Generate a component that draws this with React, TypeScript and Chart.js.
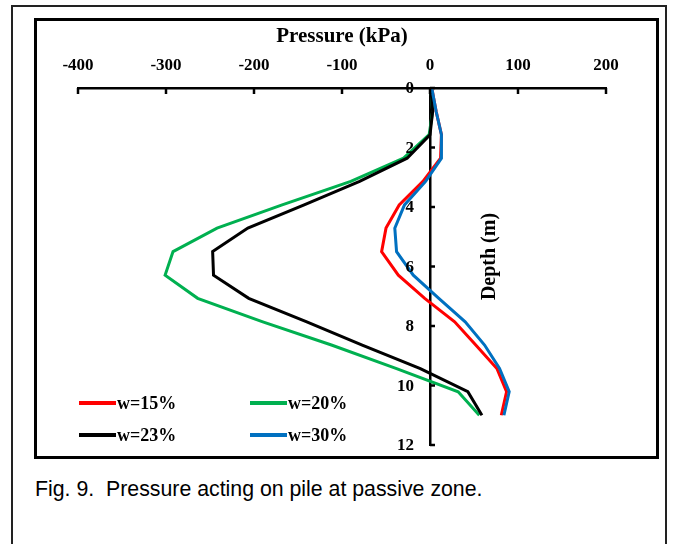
import React, { useEffect, useRef } from "react";
import { Chart, registerables } from "chart.js";
Chart.register(...registerables);

// Depth (m) at each node
const depths = [0, 0.79, 1.57, 2.36, 3.14, 3.93, 4.71, 5.5, 6.29, 7.07, 7.86, 8.64, 9.43, 10.21, 11];
// Pressure (kPa)
const w15 = [2, 7, 13, 12, -8, -35, -50, -55, -36, -6, 28, 52, 76, 87, 81];
const w20 = [1, 3, -1, -30, -90, -168, -242, -292, -301, -264, -190, -112, -38, 32, 56];
const w23 = [1, 3, 0, -26, -80, -143, -207, -247, -246, -206, -140, -77, -11, 43, 59];
const w30 = [2, 7, 13, 13, -5, -29, -40, -38, -19, 10, 40, 62, 79, 90, 84];

const seriesLabels = ["w=15%", "w=20%", "w=23%", "w=30%"];
const seriesColors = ["#FF0000", "#00B050", "#000000", "#0070C0"];
const seriesValues = [w15, w20, w23, w30];
const seriesOrder = [3, 2, 1, 0];

const xTitle = "Pressure (kPa)";
const yTitle = "Depth (m)";
const caption = "Fig. 9.  Pressure acting on pile at passive zone.";

const SERIF = '"Liberation Serif", "Times New Roman", serif';

const tickPlugin = {
  id: "innerTicks",
  afterDraw(chart: any) {
    const ctx = chart.ctx;
    const xs = chart.scales.x;
    const ys = chart.scales.y;
    const area = chart.chartArea;
    const x0 = xs.getPixelForValue(0);
    ctx.save();
    ctx.strokeStyle = "#000";
    ctx.lineWidth = 2.5;
    for (const t of xs.ticks) {
      const px = xs.getPixelForValue(t.value);
      ctx.beginPath();
      ctx.moveTo(px, area.top);
      ctx.lineTo(px, area.top + 6);
      ctx.stroke();
    }
    ctx.fillStyle = "#000";
    ctx.font = `bold 17px ${SERIF}`;
    ctx.textAlign = "right";
    ctx.textBaseline = "middle";
    for (const t of ys.ticks) {
      const py = ys.getPixelForValue(t.value);
      ctx.beginPath();
      ctx.moveTo(x0, py);
      ctx.lineTo(x0 + 5, py);
      ctx.stroke();
      ctx.fillText(String(t.value), x0 - 16, py + 1);
    }
    // y axis title, reading bottom to top
    ctx.translate(x0 + 60, (area.top + area.bottom) / 2 - 10);
    ctx.rotate(-Math.PI / 2);
    ctx.font = `bold 20px ${SERIF}`;
    ctx.textAlign = "center";
    ctx.textBaseline = "middle";
    ctx.fillText(yTitle, 0, 0);
    ctx.restore();
  },
};

function ChartBox() {
  const ref = useRef<HTMLCanvasElement>(null);
  useEffect(() => {
    if (!ref.current) return;
    const chart = new Chart(ref.current, {
      type: "scatter",
      data: {
        datasets: seriesValues.map((vals, i) => ({
          label: seriesLabels[i],
          data: depths.map((d, j) => ({ x: vals[j], y: d })),
          showLine: true,
          borderColor: seriesColors[i],
          backgroundColor: seriesColors[i],
          borderWidth: 3,
          pointRadius: 0,
          tension: 0,
          order: seriesOrder[i],
        })),
      },
      plugins: [tickPlugin],
      options: {
        animation: false,
        responsive: false,
        devicePixelRatio: 1,
        layout: { padding: { left: 41, right: 50, top: 3, bottom: 11 } },
        plugins: { legend: { display: false }, tooltip: { enabled: false } },
        scales: {
          x: {
            type: "linear",
            position: "top",
            min: -400,
            max: 200,
            afterFit: (s: any) => {
              s.height = 64;
            },
            ticks: {
              stepSize: 100,
              color: "#000",
              font: { family: SERIF, size: 17, weight: "bold" },
              padding: 12,
            },
            grid: { display: true, drawOnChartArea: false, drawTicks: false, color: "transparent" },
            border: { display: true, color: "#000", width: 2.5 },
            title: {
              display: true,
              text: xTitle,
              color: "#000",
              font: { family: SERIF, size: 21, weight: "bold" },
              padding: { top: 0, bottom: 8 },
            },
          },
          y: {
            type: "linear",
            position: { x: 0 },
            reverse: true,
            min: 0,
            max: 12,
            ticks: { stepSize: 2, display: false },
            grid: { display: true, drawOnChartArea: false, drawTicks: false, color: "transparent" },
            border: { display: true, color: "#000", width: 2.5 },
          },
        },
      } as any,
    });
    return () => chart.destroy();
  }, []);
  return <canvas ref={ref} width={619} height={435} style={{ position: "absolute", left: 37, top: 21 }} />;
}

const legendPos = [
  { x: 79, y: 403 },
  { x: 250, y: 403 },
  { x: 79, y: 435 },
  { x: 250, y: 435 },
];

export default function App() {
  return (
    <div style={{ position: "absolute", left: 0, top: 0, width: 680, height: 544, overflow: "hidden", background: "#fff" }}>
      <div
        style={{
          position: "absolute",
          left: 11,
          top: 5,
          width: 656,
          height: 600,
          border: "2px solid #222",
          boxSizing: "border-box",
        }}
      />
      <div
        style={{
          position: "absolute",
          left: 34,
          top: 18,
          width: 625,
          height: 441,
          border: "3px solid #000",
          boxSizing: "border-box",
        }}
      />
      <ChartBox />
      {seriesLabels.map((lab, i) => (
        <div
          key={lab}
          style={{
            position: "absolute",
            left: legendPos[i].x,
            top: legendPos[i].y - 11,
            height: 22,
            display: "flex",
            alignItems: "center",
            fontFamily: SERIF,
            fontWeight: "bold",
            fontSize: 18,
            color: "#000",
            whiteSpace: "nowrap",
          }}
        >
          <span style={{ display: "inline-block", width: 37, height: 3.5, background: seriesColors[i], marginRight: 1 }} />
          <span>{lab}</span>
        </div>
      ))}
      <div
        style={{
          position: "absolute",
          left: 35,
          top: 477,
          fontFamily: '"Liberation Sans", Arial, sans-serif',
          fontSize: 21.3,
          color: "#000",
          whiteSpace: "pre",
        }}
      >
        {caption}
      </div>
    </div>
  );
}
